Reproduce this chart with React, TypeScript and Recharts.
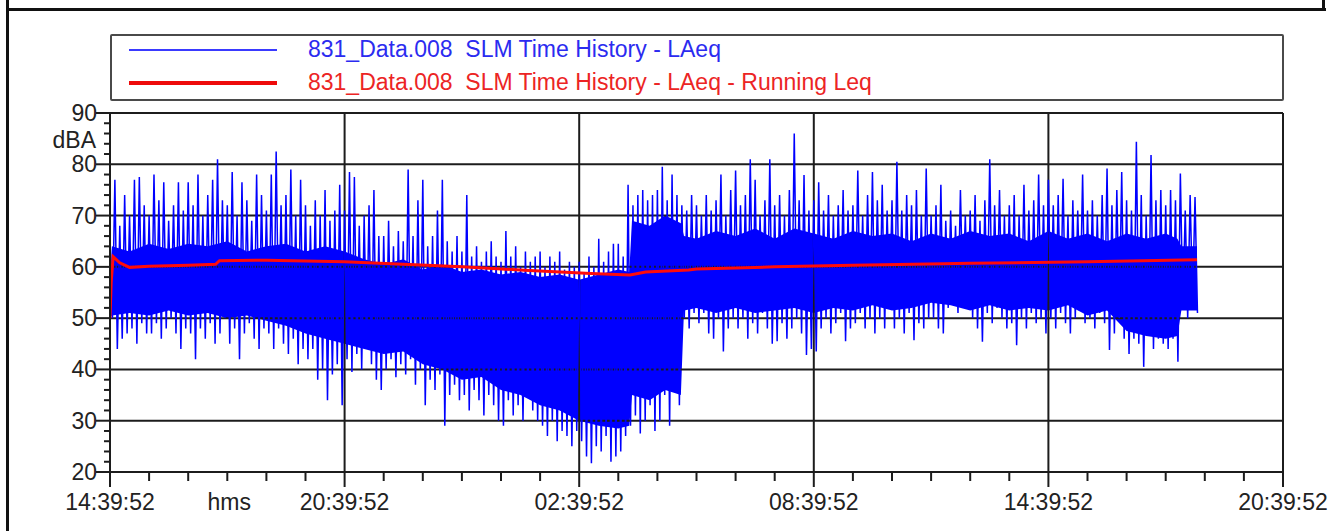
import React from 'react';
import {
  ComposedChart,
  Line,
  Area,
  XAxis,
  YAxis,
  ReferenceLine
} from 'recharts';

// time axis is in hours after 14:39:52
const xTicks = [0, 1, 2, 3, 4, 5, 6, 7, 8, 9, 10, 11, 12, 13, 14, 15, 16, 17, 18, 19, 20, 21, 22, 23, 24, 25, 26, 27, 28, 29, 30];
const xTickLabels = ['14:39:52', '20:39:52', '02:39:52', '08:39:52', '14:39:52', '20:39:52'];
const yTicks = [20, 22, 24, 26, 28, 30, 32, 34, 36, 38, 40, 42, 44, 46, 48, 50, 52, 54, 56, 58, 60, 62, 64, 66, 68, 70, 72, 74, 76, 78, 80, 82, 84, 86, 88, 90];
const hGrid = [30, 40, 50, 60, 70, 80, 90];
const vGrid = [6, 12, 18, 24, 30];

// LAeq history, one max / min pair every 7.5 min (8 per hour)
const SAMPLE_H = 0.125;
const lAeqPeaks = [
  66, 77, 68, 74, 70, 77, 77.5, 72,
  70, 78, 73, 76.5, 69, 72, 76.5, 71,
  76.5, 72, 78, 70, 74, 77, 81, 73,
  72, 78.5, 70, 76.5, 73, 69, 78, 74,
  71, 78, 82.5, 72, 74, 79, 70, 77,
  72, 68, 73, 70, 75, 69, 71, 76,
  71, 78.5, 77.5, 68, 70, 72, 75, 66,
  66, 69, 64, 67, 65, 79, 66, 73,
  77, 64, 66, 71, 77, 65, 63, 66,
  63, 74, 62, 64, 61, 63, 65, 62,
  61, 67, 62, 64, 60, 63, 61, 62,
  63, 60, 62, 61, 63, 59.5, 61, 60,
  61, 59, 62, 60, 65.5, 61, 63, 64.5,
  64.5, 62, 76, 72, 74, 75, 73, 74,
  75, 79.5, 73, 78, 74, 72, 71, 74,
  72, 70, 74, 71, 73, 78, 70, 75,
  78.8, 72, 74, 81, 77, 70, 73, 81,
  72, 74, 70, 75, 86, 73, 77.9, 71,
  73, 76.5, 71, 74, 70, 72, 75, 71,
  72, 78.8, 70, 74, 78.5, 73, 76, 71,
  73, 80.5, 71, 74, 72, 75, 70, 79.2,
  70, 72, 76, 69, 71, 68, 75, 70,
  71, 74, 69, 73, 81, 72, 75, 70,
  72, 74, 70, 76, 71, 73, 78, 72,
  77, 72, 74, 77.2, 70, 73, 71, 78,
  71, 73, 70, 74, 79.2, 72, 75, 78.5,
  73, 71, 84.4, 74, 70, 81.8, 73, 75,
  72, 75, 73, 78.2, 71, 74, 73.6
];
const lAeqTroughs = [
  50, 44, 46, 47, 48, 45, 49, 47,
  47, 49, 46, 48, 50, 47, 44, 48,
  47, 42, 48, 46, 49, 45, 47, 50,
  45, 48, 42, 47, 49, 46, 44, 48,
  47, 44, 48, 45, 43, 46, 41, 44,
  42, 44, 38, 40, 34, 39, 41, 33,
  42, 39.5, 43, 40, 44, 41, 38, 36,
  40, 42, 38.5, 41, 39, 42, 37, 40,
  33, 38, 36, 39, 29, 35, 37, 34,
  35, 32, 36, 34, 31, 35, 33, 30,
  29, 34, 31, 33, 30, 35, 32, 30,
  29, 27, 30, 26, 28, 27, 25, 28,
  26, 23, 21.7, 25, 24, 27, 22, 23,
  24, 27, 29, 31, 27.5, 30, 33, 28,
  30, 35, 29, 38, 33, 50, 48, 51,
  49, 51, 47, 46, 50, 43.5, 48, 50,
  48, 50, 46, 49, 47, 51, 48, 45,
  45.5, 49, 46, 48, 50, 47, 42.8, 44,
  43.5, 48, 50, 47, 49, 51, 45.5, 48,
  49, 51, 48, 50, 47, 50, 48, 52,
  48, 50, 47, 51, 45.7, 49, 48, 50,
  50, 48, 47, 52, 53, 51, 54, 52,
  50, 48, 45.4, 51, 49, 52, 50, 48,
  49, 44.7, 50, 48, 51, 49, 50, 47,
  50, 48, 51, 49, 47, 50, 52, 49,
  50, 48, 51, 49, 43.8, 47, 50, 46,
  43, 46, 45, 40.5, 47, 44, 46, 45,
  44, 46, 41.5, 52, 50, 53, 51
];

// solid core of the trace (where the samples overlap)
const coreHours = [
  0, 0.05, 0.5, 1, 1.5, 2, 2.5, 3, 3.5, 4, 4.5, 5, 5.5, 6, 6.5, 7, 7.5, 8, 8.5, 9, 9.5, 10, 10.5, 11, 11.5, 12, 12.5, 13,
  13.28, 13.35, 13.8, 14.2, 14.6, 14.68,
  15, 15.5, 16, 16.5, 17, 17.5, 18, 18.5, 19, 19.5, 20, 20.5, 21, 21.5, 22, 22.5, 23, 23.5, 24, 24.5, 25, 25.5, 26, 26.5, 27,
  27.3, 27.4, 27.8
];
const coreLow = [
  50, 50.5, 51, 50.5, 51.5, 50.5, 51, 50, 50.5, 49.5, 48.5, 47, 46, 45, 44, 43, 43.5, 41, 40, 38, 38.5, 36, 35, 33, 32, 30, 29, 28.5,
  29, 35, 34, 36, 35, 51.5,
  52, 51, 52, 51, 51.5, 52, 51, 52, 51.5, 52.5, 51.5, 52, 53, 52.5, 51.5, 52.5, 51.5, 52, 51.5, 52.5, 50.5, 51.5, 47.5, 46.5, 46,
  46.5, 51.5, 51.5
];
const coreHigh = [
  56, 64, 63, 64.5, 63.5, 64.5, 64, 65, 63, 64, 64.5, 63, 64, 63, 61.5, 60.5, 61.5, 59.5, 60.5, 59, 59.5, 58.5, 59, 58, 58.5, 57.5, 58.5, 59.5,
  59, 69, 68, 70, 68.5, 66,
  65.5, 67, 66, 67.5, 65.5, 67.5, 66.5, 65.5, 67, 66, 66.5, 65, 66.5, 65.5, 67, 66, 66.5, 65, 67, 65.5, 66.5, 65, 66.5, 65.5, 66.5,
  65.5, 64, 64
];

// running Leq
const runHours = [0, 0.03, 0.08, 0.25, 0.5, 1, 2, 2.7, 2.8, 4, 6, 7.2, 9, 10.6, 12.3, 13.3, 13.7, 14.8, 15, 17, 19, 21.3, 22, 25, 27.8];
const runLeq = [50, 57, 62, 60.8, 59.9, 60.1, 60.3, 60.5, 61.2, 61.3, 61.0, 60.6, 60.0, 59.35, 58.7, 58.4, 59.0, 59.4, 59.6, 60, 60.3, 60.6, 60.7, 61, 61.4];

const traceData: { t: number; v: number }[] = [];
lAeqPeaks.forEach((p, i) => {
  traceData.push({ t: i * SAMPLE_H, v: p });
  traceData.push({ t: i * SAMPLE_H + SAMPLE_H / 2, v: lAeqTroughs[i] });
});
const coreData = coreHours.map((t, i) => ({ t, band: [coreLow[i], coreHigh[i]] }));
const runData = runHours.map((t, i) => ({ t, v: runLeq[i] }));

const FONT = '"Liberation Sans", Arial, sans-serif';
const INK = '#1c1c1c';

const XTick = ({ x, y, payload }: any) => {
  const v = payload.value;
  const major = v % 6 === 0;
  return (
    <g>
      <line x1={x} x2={x} y1={y} y2={y + (major ? 15 : 9)} stroke={INK} strokeWidth={2} />
      {major && (
        <text x={x} y={y + 38} textAnchor="middle" fontSize={23} fill="#222" fontFamily={FONT}>
          {xTickLabels[v / 6]}
        </text>
      )}
      {v === 3 && (
        <text x={x + 2} y={y + 38} textAnchor="middle" fontSize={23} fill="#222" fontFamily={FONT}>
          hms
        </text>
      )}
    </g>
  );
};

const YTick = ({ x, y, payload }: any) => {
  const v = payload.value;
  const major = v % 10 === 0;
  return (
    <g>
      <line x1={x - (major ? 14 : 6)} x2={x} y1={y} y2={y} stroke={INK} strokeWidth={2} />
      {major && (
        <text x={x - 13} y={y + 8} textAnchor="end" fontSize={23} fill="#222" fontFamily={FONT}>
          {v}
        </text>
      )}
      {v === 86 && (
        <text x={x - 14} y={y + 14} textAnchor="end" fontSize={23} fill="#222" fontFamily={FONT}>
          dBA
        </text>
      )}
    </g>
  );
};

const legendItems = [
  { label: '831_Data.008  SLM Time History - LAeq', color: '#2b2bf0', line: '#3a3aff', width: 1.5, top: 14 },
  { label: '831_Data.008  SLM Time History - LAeq - Running Leq', color: '#ec2424', line: '#ee0a0a', width: 3.5, top: 47 }
];

export default function App() {
  return (
    <div style={{ position: 'absolute', left: 0, top: 0, width: 1331, height: 531, background: '#fff', fontFamily: FONT }}>
      {/* page frame */}
      <div style={{ position: 'absolute', left: 6, top: 0, width: 3, height: 531, background: '#111' }} />
      <div style={{ position: 'absolute', left: 6, top: 8, width: 1320, height: 3, background: '#111' }} />
      <div style={{ position: 'absolute', left: 1322, top: 0, width: 3, height: 10, background: '#111' }} />

      {/* legend */}
      <div style={{ position: 'absolute', left: 110, top: 34, width: 1170, height: 63, border: '2px solid #4a4a4a', borderRadius: 2 }}>
        {legendItems.map((it) => (
          <div key={it.label}>
            <div style={{ position: 'absolute', left: 17, top: it.top - it.width / 2, width: 148, height: it.width, background: it.line }} />
            <div style={{ position: 'absolute', left: 196, top: it.top - 14, fontSize: 23, lineHeight: '26px', color: it.color, whiteSpace: 'pre' }}>
              {it.label}
            </div>
          </div>
        ))}
      </div>

      <div style={{ position: 'absolute', left: 0, top: 0 }}>
        <ComposedChart width={1331} height={531} margin={{ top: 113, right: 48, bottom: 9, left: 50 }}>
          <XAxis
            dataKey="t"
            type="number"
            domain={[0, 30]}
            ticks={xTicks}
            interval={0}
            allowDataOverflow
            height={50}
            tickSize={0}
            tickMargin={0}
            tick={<XTick />}
            axisLine={{ stroke: INK, strokeWidth: 2 }}
          />
          <YAxis
            type="number"
            domain={[20, 90]}
            ticks={yTicks}
            interval={0}
            allowDataOverflow
            width={60}
            tickSize={0}
            tickMargin={0}
            tick={<YTick />}
            axisLine={{ stroke: INK, strokeWidth: 2 }}
          />
          {hGrid.map((v) => (
            <ReferenceLine key={'h' + v} y={v} stroke={INK} strokeWidth={2} />
          ))}
          {vGrid.map((v) => (
            <ReferenceLine key={'v' + v} x={v} stroke={INK} strokeWidth={2} />
          ))}
          <Area
            data={coreData}
            dataKey="band"
            type="linear"
            stroke="none"
            fill="#0000ff"
            fillOpacity={1}
            isAnimationActive={false}
          />
          <Line
            data={traceData}
            dataKey="v"
            type="linear"
            stroke="#0000ff"
            strokeWidth={1.5}
            dot={false}
            isAnimationActive={false}
          />
          <Line
            data={runData}
            dataKey="v"
            type="linear"
            stroke="#ff0a0a"
            strokeWidth={3}
            dot={false}
            isAnimationActive={false}
          />
        </ComposedChart>
      </div>
    </div>
  );
}
